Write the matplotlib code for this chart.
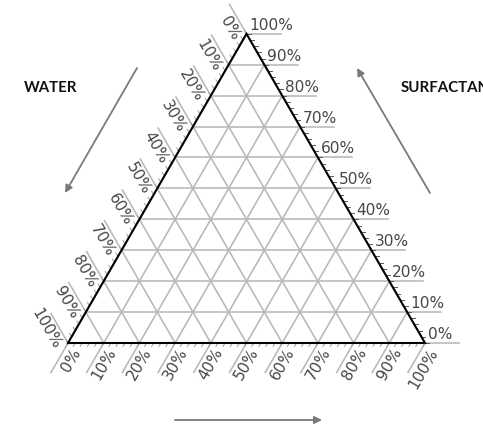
import numpy as np
import matplotlib
matplotlib.use("Agg")
import matplotlib.pyplot as plt

# Ternary diagram: water (left axis), surfactant (right axis), oil (bottom axis)
levels = [0, 10, 20, 30, 40, 50, 60, 70, 80, 90, 100]
tick_labels = [f"{v}%" for v in levels]
minor_levels = list(range(0, 101, 2))
left_title = "WATER"
right_title = "SURFACTANT"

SQ = np.sqrt(3) / 2
PX = 1 / 357.0          # one pixel in data units
EXT = 34 * PX           # length of grid-line extensions outside the triangle
grid_col = "#b8b8b8"
tick_col = "#5a5a5a"
lab_col = "#474747"
arrow_col = "#7a7a7a"
LAB_FS = 11.1


def cart(oil, surf):
    """Oil / surfactant fractions -> cartesian coordinates."""
    return oil + surf / 2.0, surf * SQ


fig = plt.figure(figsize=(4.83, 4.29), dpi=100)
ax = fig.add_axes([0, 0, 1, 1])
ax.set_xlim(-68 * PX, 415 * PX)
ax.set_ylim(-86 * PX, 343 * PX)
ax.axis("off")

u_up_left = np.array([-0.5, SQ])      # direction parallel to the right edge
u_down_left = np.array([-0.5, -SQ])   # direction parallel to the left edge

for v, lab in zip(levels, tick_labels):
    f = v / 100.0
    # surfactant = const: horizontal line, extended to the right
    x0, y0 = cart(0, f)
    x1, y1 = cart(1 - f, f)
    ax.plot([x0, x1 + EXT], [y0, y1], color=grid_col, lw=1.15, zorder=1)
    ax.text(x1 + 3 * PX, y1 + 1 * PX, lab, ha="left", va="bottom",
            fontsize=LAB_FS, color=lab_col, family="DejaVu Sans")

    # water = const: parallel to right edge, extended up-left beyond left edge
    w = f
    xa, ya = cart(0, 1 - w)          # on left edge
    xb, yb = cart(1 - w, 0)          # on bottom edge
    pa = np.array([xa, ya]) + u_up_left * EXT
    ax.plot([pa[0], xb], [pa[1], yb], color=grid_col, lw=1.15, zorder=1)
    n = np.array([-SQ, -0.5])
    p = np.array([xa, ya]) + n * 12 * PX + u_up_left * 1 * PX
    ax.text(p[0], p[1], lab, rotation=-60, rotation_mode="anchor",
            ha="right", va="center", fontsize=LAB_FS, color=lab_col,
            family="DejaVu Sans")

    # oil = const: parallel to left edge, extended down-left below bottom edge
    xc, yc = cart(f, 0)
    xd, yd = cart(f, 1 - f)
    pc = np.array([xc, yc]) + u_down_left * EXT
    ax.plot([pc[0], xd], [pc[1], yd], color=grid_col, lw=1.15, zorder=1)
    n2 = np.array([SQ, -0.5])
    p2 = np.array([xc, yc]) + n2 * 11 * PX + u_down_left * 1 * PX
    ax.text(p2[0], p2[1], lab, rotation=60, rotation_mode="anchor",
            ha="right", va="center", fontsize=LAB_FS, color=lab_col,
            family="DejaVu Sans")

# minor ticks along the three edges
TL = 4 * PX
for v in minor_levels:
    f = v / 100.0
    x, y = cart(1 - f, f)                       # right edge
    ax.plot([x, x + TL], [y, y], color=tick_col, lw=0.7, zorder=2)
    x, y = cart(0, 1 - f)                       # left edge
    q = np.array([x, y]) + u_up_left * TL
    ax.plot([x, q[0]], [y, q[1]], color="#a0a0a0", lw=0.7, zorder=2)
    x, y = cart(f, 0)                           # bottom edge
    q = np.array([x, y]) + u_down_left * TL
    ax.plot([x, q[0]], [y, q[1]], color="#a0a0a0", lw=0.7, zorder=2)

# triangle outline
tri_x = [0, 1, 0.5, 0]
tri_y = [0, 0, SQ, 0]
ax.plot(tri_x, tri_y, color="black", lw=1.5, zorder=3, solid_joinstyle="miter")


def px(xp, yp):
    return (xp - 68) * PX, (343 - yp) * PX


arrow_kw = dict(arrowstyle="-|>", color=arrow_col, lw=1.3, mutation_scale=11,
                shrinkA=0, shrinkB=0)
ax.annotate("", xy=px(65, 193), xytext=px(137, 68), arrowprops=arrow_kw)
ax.annotate("", xy=px(357, 68), xytext=px(430, 193), arrowprops=arrow_kw)
ax.annotate("", xy=px(322, 420), xytext=px(175, 420), arrowprops=arrow_kw)

tx, ty = px(24, 88)
ax.text(tx, ty, left_title, ha="left", va="center", fontsize=10.8,
        fontweight="bold", color="#111111", family="Lato")
tx, ty = px(401, 88)
ax.text(tx, ty, right_title, ha="left", va="center", fontsize=10.8,
        fontweight="bold", color="#111111", family="Lato")

fig.savefig("out.png", dpi=100)
